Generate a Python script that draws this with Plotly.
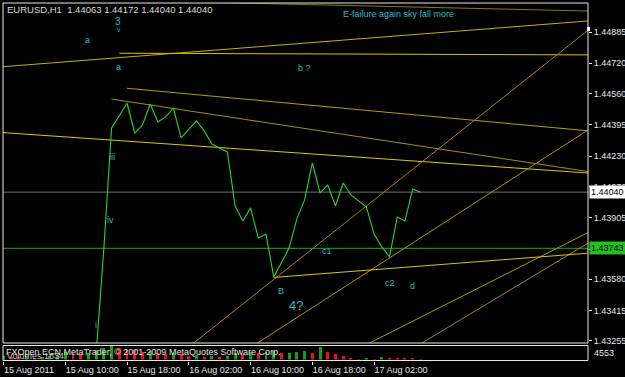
import plotly.graph_objects as go

# ---------------- data ----------------
hours = list(range(55))  # hourly bars, 0 = 15 Aug 2011 02:00
tick_hours = [0, 8, 16, 24, 32, 40, 48]
tick_labels = ["15 Aug 2011", "15 Aug 10:00", "15 Aug 18:00", "16 Aug 02:00",
               "16 Aug 10:00", "16 Aug 18:00", "17 Aug 02:00"]

close = [1.4258, 1.4262, 1.4255, 1.4268, 1.4275, 1.4281, 1.4279, 1.4290, 1.4296, 1.4301,
         1.4308, 1.4316, 1.4319, 1.43743, 1.44379, 1.44447, 1.44509, 1.44352, 1.44394, 1.44505,
         1.44410, 1.44437, 1.44484, 1.44326, 1.44372, 1.44416, 1.44363, 1.44294, 1.44272, 1.44252,
         1.43967, 1.43888, 1.43957, 1.43798, 1.43819, 1.43593, 1.43667, 1.43746, 1.43899, 1.43999,
         1.44194, 1.44036, 1.44078, 1.43967, 1.44088, 1.44025, 1.43994, 1.43962, 1.43819, 1.43751,
         1.43698, 1.43909, 1.43888, 1.44057, 1.44040]

volume = [1400, 1100, 900, 1200, 800, 1000, 1300, 1700, 2600, 2200,
          2000, 2400, 3300, 3900, 4553, 3800, 3400, 3100, 2600, 2900,
          2300, 2000, 2200, 1800, 1300, 1500, 1100, 1200, 1000, 1400,
          2300, 1900, 2600, 2400, 2700, 2900, 2300, 2400, 2700, 2900,
          2200, 4150, 2550, 1800, 1150, 500, 260, 390, 260, 900,
          800, 500, 480, 460, 260]

price_ticks = [1.44885, 1.44720, 1.44560, 1.44395, 1.44230, 1.44070,
               1.43905, 1.43740, 1.43580, 1.43415, 1.43255]
price_tick_text = ["1.44885", "1.44720", "1.44560", "1.44395", "1.44230", "1.44070",
                   "1.43905", "", "1.43580", "1.43415", "1.43255"]

# trend lines: two anchor points (hour, price)
trend_t0 = [10, 0, 15, 16, 14, 0, 35, 50, 50, 60, 35]
trend_p0 = [1.45057, 1.44702, 1.44773, 1.44588, 1.44531, 1.44354, 1.43579, 1.43693, 1.43297, 1.43386, 1.43590]
trend_t1 = [70, 70, 70, 70, 70, 70, 70, 70, 70, 70, 70]
trend_p1 = [1.45001, 1.44925, 1.44765, 1.44385, 1.44184, 1.44157, 1.44710, 1.44218, 1.43709, 1.43631, 1.43700]
trend_left_ray = [True, True, False, False, False, True, True, True, True, True, False]
trend_colors = ["#8E7800", "#CDAE00", "#DDBE00", "#BC9C00", "#A88E10", "#E2C600",
                "#A08600", "#B09200", "#B39600", "#A88C00", "#E0C400"]

green_level = 1.43743
current_price = 1.44040

label_texts = ["a", "3", "v", "a", "b ?", "iii", "iv", "i", "B", "4?", "c1", "c2", "d"]
label_t = [10.91, 14.83, 14.9, 14.87, 39.05, 14.02, 13.92, 11.94, 36.0, 37.89, 41.94, 50.0, 53.0]
label_p = [1.44843, 1.44938, 1.44898, 1.44702, 1.44695, 1.44226, 1.43893, 1.43337, 1.43516,
           1.43442, 1.43730, 1.43559, 1.43545]
label_size = [9, 10, 7, 9, 9, 9, 9, 9, 9, 13, 9, 9, 9]

# ---------------- figure ----------------
W, H = 625, 377
L, R, T, B = 3, 37, 3, 16
PW, PH = W - L - R, H - T - B
X_MIN, X_MAX = -0.065, 75.71
Y_MIN, Y_MAX = 1.43244, 1.45038
VOL_MAX = 4553

def py(pix):  # pixel y -> paper y
    return (H - B - pix) / PH

def px(pix):  # pixel x -> paper x
    return (pix - L) / PW

FONT = "Liberation Sans"
LABEL_COLOR = "#26BCCA"
TEXT = "#E6E6E6"

fig = go.Figure()

# horizontal levels
fig.add_trace(go.Scatter(x=[X_MIN - 1, X_MAX + 1], y=[current_price] * 2, mode="lines",
                         line=dict(color="#6E6E6E", width=1), hoverinfo="skip"))
fig.add_trace(go.Scatter(x=[X_MIN - 1, X_MAX + 1], y=[green_level] * 2, mode="lines",
                         line=dict(color="#0E8C0E", width=1.2), hoverinfo="skip"))

# trend lines
for t0, p0, t1, p1, lr, c in zip(trend_t0, trend_p0, trend_t1, trend_p1, trend_left_ray, trend_colors):
    slope = (p1 - p0) / (t1 - t0)
    xs = X_MIN - 30 if lr else t0
    xe = X_MAX + 5
    fig.add_trace(go.Scatter(x=[xs, xe], y=[p0 + slope * (xs - t0), p0 + slope * (xe - t0)],
                             mode="lines", line=dict(color=c, width=1), hoverinfo="skip"))

# price line
fig.add_trace(go.Scatter(x=hours, y=close, mode="lines",
                         line=dict(color="#2AD62A", width=1.1), hoverinfo="skip"))

# volumes
vol_colors = ["#12A012" if i == 0 or volume[i] > volume[i - 1] else "#EE1111" for i in range(len(volume))]
fig.add_trace(go.Bar(x=hours, y=volume, marker=dict(color=vol_colors, line=dict(width=0)),
                     width=0.38, yaxis="y2", hoverinfo="skip"))

fig.update_layout(
    width=W, height=H, margin=dict(l=L, r=R, t=T, b=B, pad=0),
    paper_bgcolor="#000000", plot_bgcolor="#000000", showlegend=False,
    font=dict(family=FONT, size=9, color=TEXT),
    xaxis=dict(range=[X_MIN, X_MAX], anchor="free", position=0, showgrid=False, zeroline=False,
               showline=False, tickmode="array", tickvals=tick_hours, ticktext=tick_labels,
               ticks="outside", ticklen=3, tickcolor=TEXT, tickwidth=1, tickangle=0,
               ticklabelposition="outside right", automargin=False,
               tickfont=dict(family=FONT, size=9, color=TEXT)),
    yaxis=dict(domain=[py(343), 1], range=[Y_MIN, Y_MAX], side="right", anchor="x",
               showgrid=False, zeroline=False, showline=False, tickmode="array",
               tickvals=price_ticks, ticktext=price_tick_text, automargin=False,
               ticks="outside", ticklen=3, tickcolor=TEXT,
               tickfont=dict(family=FONT, size=9, color=TEXT)),
    yaxis2=dict(domain=[py(359.5), py(345.5)], range=[0, VOL_MAX], anchor="x",
                showgrid=False, zeroline=False, showline=False, showticklabels=False, ticks=""),
    bargap=0,
)

# frames
fig.add_shape(type="rect", xref="paper", yref="paper", x0=0, x1=1, y0=py(343), y1=1,
              line=dict(color="#E8E8E8", width=1), fillcolor="rgba(0,0,0,0)", layer="above")
fig.add_shape(type="rect", xref="paper", yref="paper", x0=0, x1=1, y0=py(360.5), y1=py(345.5),
              line=dict(color="#E8E8E8", width=1), fillcolor="rgba(0,0,0,0)", layer="above")
fig.add_shape(type="rect", xref="paper", yref="paper", x0=px(587), x1=px(590), y0=py(31), y1=py(27),
              line=dict(width=0), fillcolor="#FFFFFF", layer="above")

# wave labels
for txt, t, p, s in zip(label_texts, label_t, label_p, label_size):
    fig.add_annotation(x=t, y=p, xref="x", yref="y", text=txt, showarrow=False,
                       font=dict(family=FONT, size=s, color=LABEL_COLOR), xanchor="center", yanchor="middle")

fig.add_annotation(x=px(398), y=py(14), xref="paper", yref="paper", text="E-failure again sky fall more",
                   showarrow=False, font=dict(family=FONT, size=9, color=LABEL_COLOR),
                   xanchor="center", yanchor="middle")

# header
fig.add_annotation(x=px(5), y=py(10), xref="paper", yref="paper",
                   text="EURUSD,H1  1.44063 1.44172 1.44040 1.44040", showarrow=False,
                   font=dict(family=FONT, size=9.5, color="#DADADA"), xanchor="left", yanchor="middle")

# volume window texts
fig.add_annotation(x=px(5), y=py(355.5), xref="paper", yref="paper", text="Volumes 1634",
                   showarrow=False, font=dict(family=FONT, size=9, color="#BDBDBD"),
                   xanchor="left", yanchor="middle")
fig.add_annotation(x=px(4), y=py(352), xref="paper", yref="paper",
                   text="FXOpen ECN MetaTrader, © 2001-2009 MetaQuotes Software Corp.",
                   showarrow=False, font=dict(family=FONT, size=9, color="#E0E0E0"),
                   xanchor="left", yanchor="middle")
fig.add_annotation(x=px(592), y=py(353), xref="paper", yref="paper", text="4553",
                   showarrow=False, font=dict(family=FONT, size=9, color=TEXT),
                   xanchor="left", yanchor="middle")

# price labels on the scale
fig.add_annotation(x=px(589), y=current_price, xref="paper", yref="y", text="1.44040",
                   showarrow=False, bgcolor="#FFFFFF", borderpad=1,
                   font=dict(family=FONT, size=9, color="#000000"), xanchor="left", yanchor="middle")
fig.add_annotation(x=px(589), y=green_level, xref="paper", yref="y", text="1.43743",
                   showarrow=False, bgcolor="#22C022", borderpad=1,
                   font=dict(family=FONT, size=9, color="#000000"), xanchor="left", yanchor="middle")

fig.write_html("out.html")
